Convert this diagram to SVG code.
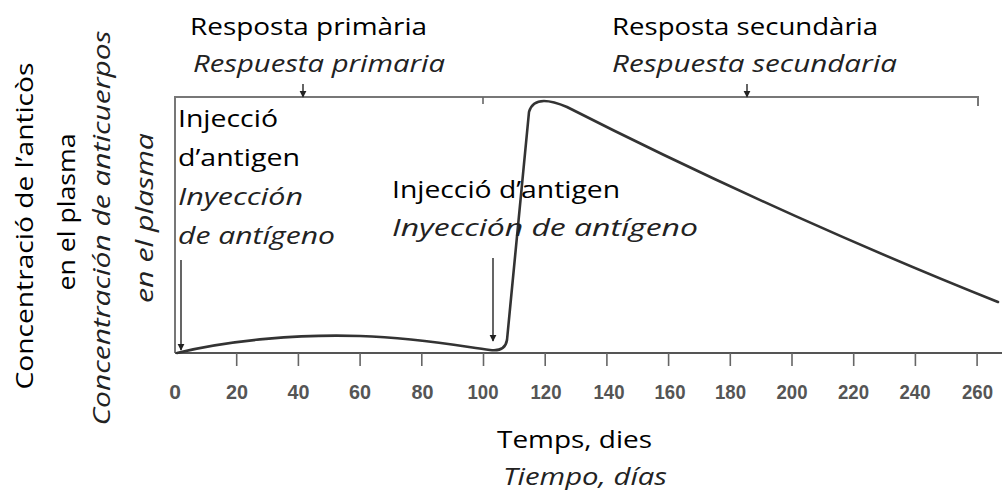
<svg xmlns="http://www.w3.org/2000/svg" width="1002" height="490" viewBox="0 0 1002 490">
<style>
.cat{font-family:"Open Sans","Liberation Sans",sans-serif;font-size:24px;font-weight:500;fill:#000;}
.esp{font-family:"Open Sans","Liberation Sans",sans-serif;font-size:24px;font-style:italic;fill:#222;}
.num{font-family:"Liberation Sans",Arial,sans-serif;font-size:21px;font-weight:bold;fill:#555;text-anchor:middle;}
.frame{stroke:#777;stroke-width:2;fill:none;}
.axis{stroke:#555;stroke-width:2;fill:none;}
.tick{stroke:#666;stroke-width:1.6;}
.curve{stroke:#333;stroke-width:2.6;fill:none;stroke-linejoin:round;stroke-linecap:round;}
.arr{stroke:#555;stroke-width:1.8;fill:none;}
</style>
<defs>
<marker id="ah" viewBox="0 0 10 10" refX="9" refY="5" markerWidth="4" markerHeight="4" orient="auto" markerUnits="strokeWidth">
<path d="M0,0 L10,5 L0,10 Z" fill="#222"/>
</marker>
</defs>
<rect width="1002" height="490" fill="#fff"/>

<g id="frame">
<path class="frame" d="M175,353 L175,97 L978,97 L978,106"/>
<line class="tick" x1="483" y1="97" x2="483" y2="104"/>
<line class="axis" x1="175" y1="353" x2="1002" y2="353"/>
</g>

<g id="ticks">
<line class="tick" x1="236.7" y1="353" x2="236.7" y2="366"/>
<line class="tick" x1="298.4" y1="353" x2="298.4" y2="366"/>
<line class="tick" x1="360.1" y1="353" x2="360.1" y2="366"/>
<line class="tick" x1="421.8" y1="353" x2="421.8" y2="366"/>
<line class="tick" x1="483.5" y1="353" x2="483.5" y2="366"/>
<line class="tick" x1="545.2" y1="353" x2="545.2" y2="366"/>
<line class="tick" x1="606.9" y1="353" x2="606.9" y2="366"/>
<line class="tick" x1="668.6" y1="353" x2="668.6" y2="366"/>
<line class="tick" x1="730.3" y1="353" x2="730.3" y2="366"/>
<line class="tick" x1="792" y1="353" x2="792" y2="366"/>
<line class="tick" x1="853.7" y1="353" x2="853.7" y2="366"/>
<line class="tick" x1="915.4" y1="353" x2="915.4" y2="366"/>
<line class="tick" x1="977.1" y1="353" x2="977.1" y2="366"/>
</g>

<g id="tick-labels">
<text class="num" x="175" y="399">0</text>
<text class="num" x="237" y="399" textLength="22" lengthAdjust="spacingAndGlyphs">20</text>
<text class="num" x="298.5" y="399" textLength="22" lengthAdjust="spacingAndGlyphs">40</text>
<text class="num" x="360" y="399" textLength="22" lengthAdjust="spacingAndGlyphs">60</text>
<text class="num" x="422.5" y="399" textLength="22" lengthAdjust="spacingAndGlyphs">80</text>
<text class="num" x="483" y="399" textLength="31" lengthAdjust="spacingAndGlyphs">100</text>
<text class="num" x="546" y="399" textLength="31" lengthAdjust="spacingAndGlyphs">120</text>
<text class="num" x="609" y="399" textLength="31" lengthAdjust="spacingAndGlyphs">140</text>
<text class="num" x="670" y="399" textLength="31" lengthAdjust="spacingAndGlyphs">160</text>
<text class="num" x="730.5" y="399" textLength="31" lengthAdjust="spacingAndGlyphs">180</text>
<text class="num" x="792" y="399" textLength="31" lengthAdjust="spacingAndGlyphs">200</text>
<text class="num" x="853.5" y="399" textLength="31" lengthAdjust="spacingAndGlyphs">220</text>
<text class="num" x="915" y="399" textLength="31" lengthAdjust="spacingAndGlyphs">240</text>
<text class="num" x="977.5" y="399" textLength="31" lengthAdjust="spacingAndGlyphs">260</text>
</g>

<g id="connectors">
<line class="arr" x1="303" y1="84" x2="303" y2="97" marker-end="url(#ah)"/>
<line class="arr" x1="747" y1="84" x2="747" y2="97" marker-end="url(#ah)"/>
<line class="arr" x1="181" y1="260" x2="181" y2="350" marker-end="url(#ah)"/>
<line class="arr" x1="493" y1="258" x2="493" y2="341" marker-end="url(#ah)"/>
</g>

<g id="response-curve">
<path class="curve" d="M177,353 C230,340 300,334 360,336 C420,338 460,346 490,350 Q505,352 507,340 L529,112 Q532,101 544,101 Q553,101 567,107 C720,185 880,255 998,302"/>
</g>

<g id="title-primary">
<text class="cat" x="190" y="35" font-size="25" textLength="237" lengthAdjust="spacingAndGlyphs">Resposta primària</text>
<text class="esp" x="193" y="72" textLength="252" lengthAdjust="spacingAndGlyphs">Respuesta primaria</text>
</g>

<g id="title-secondary">
<text class="cat" x="612" y="35" font-size="25" textLength="266" lengthAdjust="spacingAndGlyphs">Resposta secundària</text>
<text class="esp" x="612" y="72" textLength="285" lengthAdjust="spacingAndGlyphs">Respuesta secundaria</text>
</g>

<g id="injection-1">
<text class="cat" x="178" y="127" textLength="100" lengthAdjust="spacingAndGlyphs">Injecció</text>
<text class="cat" x="178" y="166" textLength="122" lengthAdjust="spacingAndGlyphs">d’antigen</text>
<text class="esp" x="178" y="205" textLength="125" lengthAdjust="spacingAndGlyphs">Inyección</text>
<text class="esp" x="178" y="244" textLength="157" lengthAdjust="spacingAndGlyphs">de antígeno</text>
</g>

<g id="injection-2">
<text class="cat" x="392" y="198" textLength="228" lengthAdjust="spacingAndGlyphs">Injecció d’antigen</text>
<text class="esp" x="392" y="236" textLength="306" lengthAdjust="spacingAndGlyphs">Inyección de antígeno</text>
</g>

<g id="x-label">
<text class="cat" x="497" y="448" font-size="27" textLength="155" lengthAdjust="spacingAndGlyphs">Temps, dies</text>
<text class="esp" x="503" y="485" font-size="26" textLength="164" lengthAdjust="spacingAndGlyphs">Tiempo, días</text>
</g>

<g id="y-label">
<text class="cat" font-size="25" text-anchor="middle" transform="translate(33,226) rotate(-90)" textLength="327" lengthAdjust="spacingAndGlyphs">Concentració de l’anticòs</text>
<text class="cat" font-size="25" text-anchor="middle" transform="translate(75,212) rotate(-90)" textLength="157" lengthAdjust="spacingAndGlyphs">en el plasma</text>
<text class="esp" font-size="25" text-anchor="middle" transform="translate(110,228) rotate(-90)" textLength="395" lengthAdjust="spacingAndGlyphs">Concentración de anticuerpos</text>
<text class="esp" font-size="24" text-anchor="middle" transform="translate(153,218) rotate(-90)" textLength="170" lengthAdjust="spacingAndGlyphs">en el plasma</text>
</g>
</svg>
